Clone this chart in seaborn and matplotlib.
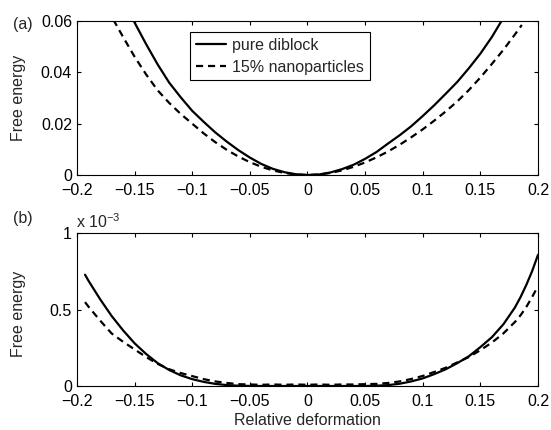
import numpy as np
import pandas as pd
import seaborn as sns
import matplotlib.pyplot as plt
from matplotlib.ticker import FuncFormatter

# (a) free energy vs relative deformation
x_top_pure = [-0.17, -0.16, -0.15, -0.14, -0.13, -0.12, -0.11, -0.10, -0.09, -0.08,
              -0.07, -0.06, -0.05, -0.04, -0.03, -0.02, -0.01, 0.00, 0.01, 0.02,
              0.03, 0.04, 0.05, 0.06, 0.07, 0.08, 0.09, 0.10, 0.11, 0.12,
              0.13, 0.14, 0.15, 0.16, 0.17, 0.18]
f_top_pure = [0.0763, 0.0676, 0.0594, 0.0510, 0.0431, 0.0360, 0.0303, 0.0250, 0.0207, 0.0166,
              0.0130, 0.0097, 0.0068, 0.0043, 0.0024, 0.0011, 0.0003, 0.0000, 0.0002, 0.0010,
              0.0023, 0.0040, 0.0063, 0.0090, 0.0123, 0.0155, 0.0190, 0.0230, 0.0272, 0.0317,
              0.0363, 0.0416, 0.0473, 0.0538, 0.0613, 0.0687]
x_top_nano = [-0.18, -0.17, -0.16, -0.15, -0.14, -0.13, -0.12, -0.11, -0.10, -0.09,
              -0.08, -0.07, -0.06, -0.05, -0.04, -0.03, -0.02, -0.01, 0.00, 0.01,
              0.02, 0.03, 0.04, 0.05, 0.06, 0.07, 0.08, 0.09, 0.10, 0.11,
              0.12, 0.13, 0.14, 0.15, 0.16, 0.17, 0.18, 0.186]
f_top_nano = [0.0693, 0.0618, 0.0538, 0.0461, 0.0392, 0.0330, 0.0281, 0.0238, 0.0200, 0.0162,
              0.0128, 0.0098, 0.0072, 0.0050, 0.0032, 0.0018, 0.0008, 0.0002, 0.0000, 0.0002,
              0.0008, 0.0018, 0.0032, 0.0049, 0.0069, 0.0092, 0.0118, 0.0147, 0.0178, 0.0212,
              0.0248, 0.0287, 0.0331, 0.0380, 0.0433, 0.0488, 0.0548, 0.0585]

# (b) same quantity, units of 1e-3
x_bot = [-0.193, -0.19, -0.18, -0.17, -0.16, -0.15, -0.14, -0.13, -0.12, -0.11,
         -0.10, -0.09, -0.08, -0.07, -0.06, -0.05, -0.04, -0.03, -0.02, -0.01,
         0.00, 0.01, 0.02, 0.03, 0.04, 0.05, 0.06, 0.07, 0.08, 0.09,
         0.10, 0.11, 0.12, 0.13, 0.14, 0.15, 0.16, 0.17, 0.18, 0.185, 0.19, 0.195, 0.20]
f_bot_pure = [0.73, 0.69, 0.57, 0.46, 0.365, 0.28, 0.21, 0.15, 0.105, 0.07,
              0.045, 0.027, 0.014, 0.006, 0.002, 0.0005, 0.0, 0.0, 0.0, 0.0,
              0.0, 0.0, 0.0, 0.0, 0.0, 0.0, 0.002, 0.006, 0.015, 0.03,
              0.05, 0.078, 0.11, 0.15, 0.195, 0.255, 0.32, 0.405, 0.515, 0.585, 0.665, 0.755, 0.86]
f_bot_nano = [0.55, 0.52, 0.43, 0.345, 0.29, 0.24, 0.19, 0.145, 0.11, 0.085,
              0.065, 0.045, 0.03, 0.02, 0.012, 0.01, 0.008, 0.01, 0.008, 0.01,
              0.008, 0.01, 0.008, 0.01, 0.01, 0.012, 0.014, 0.02, 0.03, 0.046,
              0.066, 0.092, 0.12, 0.155, 0.19, 0.235, 0.285, 0.345, 0.42, 0.465, 0.52, 0.585, 0.655]

x_ticks = [-0.2, -0.15, -0.1, -0.05, 0, 0.05, 0.1, 0.15, 0.2]

FS = 11.5
sns.set_theme(style="ticks")
plt.rcParams['font.family'] = ['Liberation Sans', 'DejaVu Sans']
plt.rcParams['font.size'] = FS
plt.rcParams['mathtext.fontset'] = 'custom'
plt.rcParams['mathtext.rm'] = 'Liberation Sans'


def fmt(v, pos):
    s = f"{round(v, 4):g}"
    if s == "-0":
        s = "0"
    return s.replace('-', '\u2212')


def style_axes(ax):
    ax.set_xlim(-0.2, 0.2)
    ax.set_xticks(x_ticks)
    ax.xaxis.set_major_formatter(FuncFormatter(fmt))
    ax.yaxis.set_major_formatter(FuncFormatter(fmt))
    ax.tick_params(direction='in', length=3, width=0.8, top=True, right=True,
                   labelsize=FS, colors='black')
    ax.tick_params(axis='x', pad=6)
    ax.tick_params(axis='y', pad=3.5)
    for sp in ax.spines.values():
        sp.set_visible(True)
        sp.set_linewidth(0.8)
        sp.set_color('black')
    ax.set_facecolor('white')


fig = plt.figure(figsize=(5.51, 4.30), dpi=100)
ax1 = fig.add_axes([0.1397, 0.593, 0.8367, 0.358])
ax2 = fig.add_axes([0.1397, 0.1023, 0.8367, 0.3547])

top_pure = pd.DataFrame({'x': x_top_pure, 'f': f_top_pure})
top_nano = pd.DataFrame({'x': x_top_nano, 'f': f_top_nano})
bot = pd.DataFrame({'x': x_bot, 'pure': f_bot_pure, 'nano': f_bot_nano})

sns.lineplot(data=top_pure, x='x', y='f', ax=ax1, color='black', lw=1.6,
             label='pure diblock')
sns.lineplot(data=top_nano, x='x', y='f', ax=ax1, color='black', lw=1.6,
             linestyle=(0, (3.2, 2.2)), label='15% nanoparticles')
sns.lineplot(data=bot, x='x', y='pure', ax=ax2, color='black', lw=1.6, legend=False)
sns.lineplot(data=bot, x='x', y='nano', ax=ax2, color='black', lw=1.6,
             linestyle=(0, (3.2, 2.2)), legend=False)

style_axes(ax1)
ax1.set_ylim(0, 0.06)
ax1.set_yticks([0, 0.02, 0.04, 0.06])
style_axes(ax2)
ax2.set_ylim(0, 1)
ax2.set_yticks([0, 0.5, 1])

ax1.set_xlabel('')
ax1.set_ylabel('Free energy', fontsize=FS)
ax1.yaxis.set_label_coords(-0.11, 0.5)
ax2.set_ylabel('Free energy', fontsize=FS)
ax2.yaxis.set_label_coords(-0.11, 0.475)
ax2.set_xlabel('Relative deformation', fontsize=FS)
ax2.xaxis.set_label_coords(0.5, -0.178)

leg = ax1.legend(loc='upper left', bbox_to_anchor=(0.245, 0.929), borderaxespad=0,
                 fontsize=FS, frameon=True, fancybox=False, framealpha=1,
                 edgecolor='black', handlelength=1.9, handletextpad=0.4,
                 labelspacing=0.45, borderpad=0.35)
leg.get_frame().set_linewidth(0.8)

fig.text(0.023, 0.942, '(a)', fontsize=FS, va='center', ha='left')
fig.text(0.023, 0.493, '(b)', fontsize=FS, va='center', ha='left')
fig.text(0.138, 0.470, r'x 10$^{-3}$', fontsize=FS, va='baseline', ha='left')

fig.savefig('out.png', dpi=100, facecolor='white')
plt.close(fig)
